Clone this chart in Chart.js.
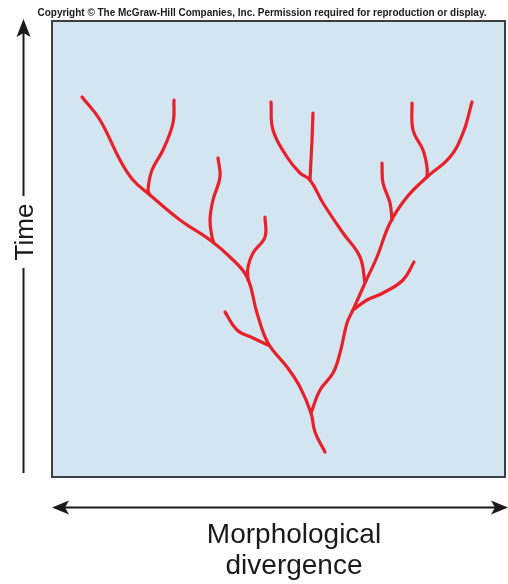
<!DOCTYPE html>
<html>
<head>
<meta charset="utf-8">
<script src="https://cdn.jsdelivr.net/npm/chart.js@4.4.1/dist/chart.umd.min.js"></script>
<style>
  html, body { margin: 0; padding: 0; background: #ffffff; }
  #wrap { width: 508px; height: 584px; position: relative; }
</style>
</head>
<body>
<div id="wrap"><canvas id="c" width="508" height="584"></canvas></div>
<script>
// ---- Texts ----
const copyrightText = 'Copyright \u00A9 The McGraw-Hill Companies, Inc. Permission required for reproduction or display.';
const yAxisLabel = 'Time';
const xAxisLabel = ['Morphological', 'divergence'];

// ---- Branch data: [morphological divergence, time] ----
const branchA = [[30,380],[48,357],[68,317],[81,297],[98,282],[128,257],[158,237],[178,220],[195,200],[205,164],[216,134],[235,110],[248,90],[259,64],[263,45],[273,25]];
const branchB = [[122,377],[121,354],[111,327],[100,307],[96,287],[98,282]];
const branchC = [[166,319],[168,300],[161,277],[158,257],[160,240],[162,234]];
const branchD = [[213,260],[213,240],[201,224],[196,210],[196,197]];
const branchE = [[173,165],[185,147],[201,139],[216,132]];
const branchF = [[259,64],[268,87],[281,104],[288,124],[295,154],[301,167],[313,194],[325,220],[338,254],[355,280],[375,300],[398,320],[411,344],[420,375]];
const branchG = [[313,194],[308,220],[291,244],[271,274],[258,297],[248,304],[235,320],[221,347],[219,375]];
const branchH = [[258,297],[259,317],[260,337],[261,364]];
const branchI = [[375,300],[375,310],[371,327],[361,347],[360,374]];
const branchJ = [[340,257],[338,274],[331,294],[330,314]];
const branchK = [[301,167],[315,177],[331,184],[351,197],[362,215]];

const branches = [branchA, branchB, branchC, branchD, branchE, branchF, branchG, branchH, branchI, branchJ, branchK];

const datasets = branches.map(b => ({
  data: b.map(p => ({ x: p[0], y: p[1] })),
  showLine: true,
  borderColor: '#e8202a',
  borderWidth: 3.2,
  pointRadius: 0,
  pointHoverRadius: 0,
  tension: 0.4,
  fill: false,
  borderCapStyle: 'round',
  borderJoinStyle: 'round'
}));

const decor = {
  id: 'decor',
  beforeDatasetsDraw(chart) {
    const { ctx, chartArea: a } = chart;
    ctx.save();
    ctx.fillStyle = '#d3e5f1';
    ctx.fillRect(a.left, a.top, a.right - a.left, a.bottom - a.top);
    ctx.restore();
  },
  afterDraw(chart) {
    const { ctx, chartArea: a } = chart;
    ctx.save();
    // box border
    ctx.strokeStyle = '#3b3f42';
    ctx.lineWidth = 2;
    ctx.strokeRect(a.left, a.top, a.right - a.left, a.bottom - a.top);

    // copyright
    ctx.fillStyle = '#1a1a1a';
    ctx.font = 'bold 10px "Liberation Sans", Arial, sans-serif';
    ctx.textAlign = 'center';
    ctx.textBaseline = 'alphabetic';
    const w = ctx.measureText(copyrightText).width;
    const target = 449;
    ctx.save();
    ctx.translate(262, 16);
    ctx.scale(target / w, 1);
    ctx.fillText(copyrightText, 0, 0);
    ctx.restore();

    // vertical arrow (Time)
    ctx.strokeStyle = '#1a1a1a';
    ctx.fillStyle = '#1a1a1a';
    ctx.lineWidth = 2;
    const vx = 23.5;
    ctx.beginPath();
    ctx.moveTo(vx, 32); ctx.lineTo(vx, 196);
    ctx.moveTo(vx, 268); ctx.lineTo(vx, 473);
    ctx.stroke();
    ctx.beginPath();
    ctx.moveTo(vx, 19);
    ctx.lineTo(vx + 7, 37);
    ctx.lineTo(vx, 33);
    ctx.lineTo(vx - 7, 37);
    ctx.closePath();
    ctx.fill();

    // Time label
    ctx.save();
    ctx.translate(33, 232);
    ctx.rotate(-Math.PI / 2);
    ctx.font = '26px "Liberation Sans", Arial, sans-serif';
    ctx.textAlign = 'center';
    ctx.textBaseline = 'alphabetic';
    ctx.fillText(yAxisLabel, 0, 0);
    ctx.restore();

    // horizontal double arrow
    const hy = 507.5;
    ctx.beginPath();
    ctx.moveTo(62, hy); ctx.lineTo(498, hy);
    ctx.stroke();
    ctx.beginPath();
    ctx.moveTo(52, hy); ctx.lineTo(69, hy - 7); ctx.lineTo(65, hy); ctx.lineTo(69, hy + 7); ctx.closePath();
    ctx.fill();
    ctx.beginPath();
    ctx.moveTo(508, hy); ctx.lineTo(491, hy - 7); ctx.lineTo(495, hy); ctx.lineTo(491, hy + 7); ctx.closePath();
    ctx.fill();

    // x label
    ctx.font = '28px "Liberation Sans", Arial, sans-serif';
    ctx.textAlign = 'center';
    ctx.fillStyle = '#1a1a1a';
    ctx.fillText(xAxisLabel[0], 294, 543);
    ctx.fillText(xAxisLabel[1], 294, 574);
    ctx.restore();
  }
};

new Chart(document.getElementById('c'), {
  type: 'scatter',
  data: { datasets },
  options: {
    responsive: false,
    animation: false,
    events: [],
    layout: { padding: { left: 52, top: 21, right: 3, bottom: 107 } },
    plugins: { legend: { display: false }, tooltip: { enabled: false }, title: { display: false } },
    scales: {
      x: { type: 'linear', min: 0, max: 453, display: false },
      y: { type: 'linear', min: 0, max: 456, display: false }
    }
  },
  plugins: [decor]
});
</script>
</body>
</html>
